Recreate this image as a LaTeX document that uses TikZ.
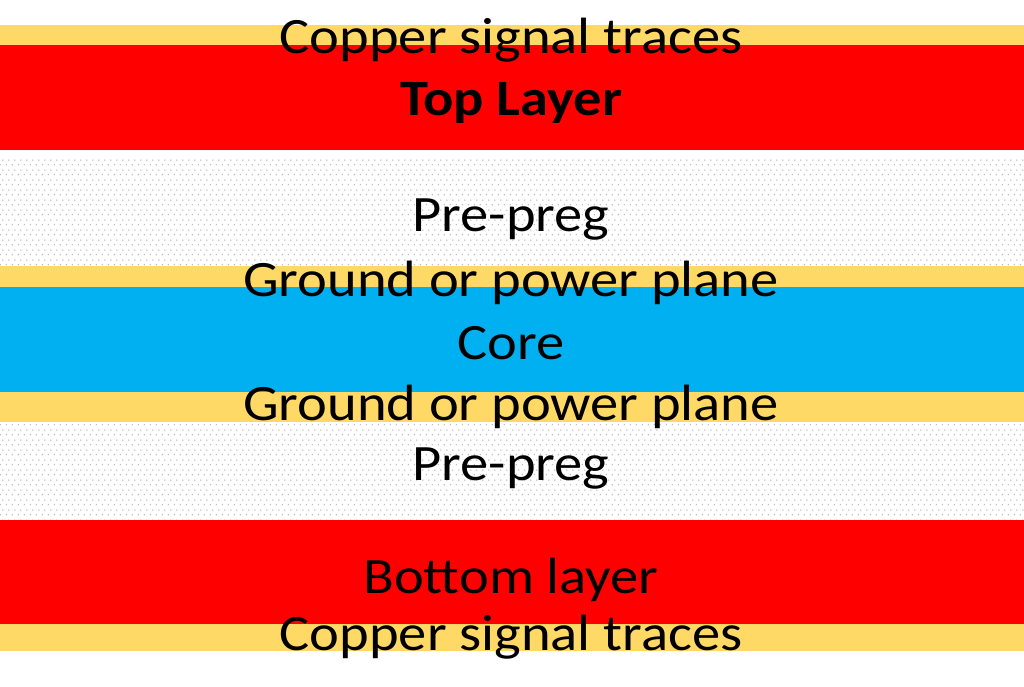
\documentclass[tikz,border=0pt]{standalone}
\usepackage{fontspec}
\setmainfont{Carlito}
\usetikzlibrary{patterns.meta}
\definecolor{cu}{HTML}{FFD966}
\definecolor{sig}{HTML}{FF0000}
\definecolor{corec}{HTML}{00B0F0}
\newcommand{\wide}[1]{\scalebox{1.108}[1]{#1}}
\tikzdeclarepattern{
  name=pdots,
  type=uncolored,
  bounding box={(0pt,0pt) and (6pt,10pt)},
  tile size={(6pt,10pt)},
  code={
    \fill (1.5pt,2.5pt) circle (0.85pt);
    \fill (4.5pt,7.5pt) circle (0.85pt);
  }
}
\tikzset{
  lbl/.style={anchor=base, font=\fontsize{51}{60}\selectfont, text=black, inner sep=0pt},
}
\begin{document}
\begin{tikzpicture}[x=1pt,y=-1pt]
\useasboundingbox (0,0) rectangle (1024,687);
\fill[white] (0,0) rectangle (1024,687);
% prepreg dotted regions
\fill[pattern={pdots}, pattern color=gray!55] (0,160) rectangle (1024,266);
\fill[pattern={pdots}, pattern color=gray!55] (0,422) rectangle (1024,519);
% copper and layers
\fill[cu] (0,25) rectangle (1024,45);
\fill[sig] (0,45) rectangle (1024,150);
\fill[cu] (0,266) rectangle (1024,287);
\fill[corec] (0,287) rectangle (1024,392);
\fill[cu] (0,392) rectangle (1024,422);
\fill[sig] (0,520) rectangle (1024,624);
\fill[cu] (0,624) rectangle (1024,651);
% labels
\node[lbl] (t1) at (511,54) {\wide{Copper signal traces}};
\node[lbl, font=\fontsize{51}{60}\selectfont\bfseries] (t2) at (511,116) {\wide{Top Layer}};
\node[lbl] (t3) at (511,231) {\wide{Pre-preg}};
\node[lbl] (t4) at (511,296) {\wide{Ground or power plane}};
\node[lbl] (t5) at (511,359) {\wide{Core}};
\node[lbl] (t6) at (511,420) {\wide{Ground or power plane}};
\node[lbl] (t7) at (511,480) {\wide{Pre-preg}};
\node[lbl] (t8) at (511,593) {\wide{Bottom layer}};
\node[lbl] (t9) at (511,650) {\wide{Copper signal traces}};
\end{tikzpicture}
\end{document}
